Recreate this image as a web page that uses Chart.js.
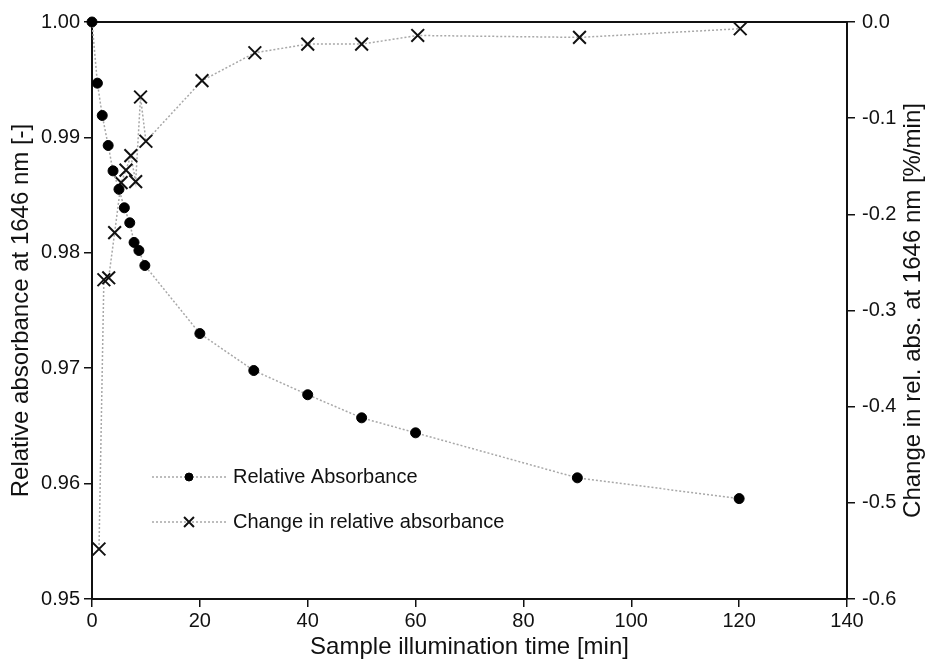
<!DOCTYPE html>
<html>
<head>
<meta charset="utf-8">
<script src="https://cdn.jsdelivr.net/npm/chart.js@4.4.1/dist/chart.umd.min.js"></script>
<style>
  html, body { margin: 0; padding: 0; background: #fff; }
  #wrap { width: 928px; height: 664px; position: relative; }
</style>
</head>
<body>
<div id="wrap"><canvas id="c"></canvas></div>
<script>
// Waarden
const absTime = [0, 1, 1.9, 3, 3.9, 5, 6, 7, 7.8, 8.7, 9.8, 20, 30, 40, 50, 60, 90, 120];
const relAbsorbance = [1.0000, 0.9947, 0.9919, 0.9893, 0.9871, 0.9855, 0.9839, 0.9826, 0.9809, 0.9802, 0.9789,
                       0.9730, 0.9698, 0.9677, 0.9657, 0.9644, 0.9605, 0.9587];
const changeTime = [1.3, 2.2, 3.1, 4.2, 5.4, 6.3, 7.2, 8.1, 9, 10, 20.4, 30.2, 40, 50, 60.4, 90.4, 120.2];
const changeRelAbs = [-0.548, -0.268, -0.266, -0.219, -0.167, -0.154, -0.139, -0.166, -0.078, -0.124,
                      -0.061, -0.032, -0.023, -0.023, -0.014, -0.016, -0.007];
const xTicks = [0, 20, 40, 60, 80, 100, 120, 140];
const yLeftTicks = [0.95, 0.96, 0.97, 0.98, 0.99, 1.00];
const yRightTicks = [-0.6, -0.5, -0.4, -0.3, -0.2, -0.1, 0.0];
const seriesLabels = ['Relative Absorbance', 'Change in relative absorbance'];
const rightTitle = 'Change in rel. abs. at 1646 nm [%/min]';

const FONT = '"Liberation Sans", Arial, sans-serif';
const INK = '#111';
const LINE_GREY = '#a8a8a8';

const toPoints = (xs, ys) => xs.map((x, i) => ({ x, y: ys[i] }));

// Legenda binnen het plotvlak (linksonder)
const innerLegend = {
  id: 'innerLegend',
  afterDraw(chart) {
    const { ctx, chartArea } = chart;
    const x0 = chartArea.left + 60;
    const rows = [chartArea.bottom - 122, chartArea.bottom - 77];
    const radii = [4, 7];
    chart.data.datasets.forEach((ds, i) => {
      const y = rows[i];
      ctx.save();
      ctx.strokeStyle = ds.borderColor;
      ctx.lineWidth = ds.borderWidth;
      ctx.setLineDash(ds.borderDash);
      ctx.beginPath();
      ctx.moveTo(x0, y);
      ctx.lineTo(x0 + 76, y);
      ctx.stroke();
      ctx.setLineDash([]);
      ctx.fillStyle = ds.pointBackgroundColor;
      ctx.strokeStyle = ds.pointBorderColor;
      ctx.lineWidth = ds.pointBorderWidth;
      Chart.helpers.drawPoint(ctx, {
        pointStyle: ds.pointStyle, radius: radii[i], borderWidth: ds.pointBorderWidth, rotation: 0
      }, x0 + 37, y);
      ctx.fillStyle = INK;
      ctx.font = '20px ' + FONT;
      ctx.textBaseline = 'middle';
      ctx.textAlign = 'left';
      ctx.fillText(ds.label, x0 + 81, y);
      ctx.restore();
    });
  }
};

// Rechter astitel leest van onder naar boven, zoals links
const rightAxisTitle = {
  id: 'rightAxisTitle',
  afterDraw(chart) {
    const { ctx, chartArea } = chart;
    ctx.save();
    ctx.translate(913, (chartArea.top + chartArea.bottom) / 2);
    ctx.rotate(-Math.PI / 2);
    ctx.fillStyle = INK;
    ctx.font = '24px ' + FONT;
    ctx.textAlign = 'center';
    ctx.textBaseline = 'middle';
    ctx.fillText(rightTitle, 0, 0);
    ctx.restore();
  }
};

const axisBorder = { display: true, color: INK, width: 2 };
const tickGrid = { display: true, drawOnChartArea: false, drawTicks: true, tickLength: 8, color: INK, lineWidth: 1.5 };

new Chart(document.getElementById('c'), {
  type: 'scatter',
  data: {
    datasets: [
      {
        label: seriesLabels[0],
        data: toPoints(absTime, relAbsorbance),
        yAxisID: 'y',
        showLine: true,
        borderColor: LINE_GREY,
        borderWidth: 1.5,
        borderDash: [2, 2],
        pointStyle: 'circle',
        pointRadius: 5,
        pointBackgroundColor: '#000',
        pointBorderColor: '#000',
        pointBorderWidth: 1,
        clip: false
      },
      {
        label: seriesLabels[1],
        data: toPoints(changeTime, changeRelAbs),
        yAxisID: 'y2',
        showLine: true,
        borderColor: LINE_GREY,
        borderWidth: 1.5,
        borderDash: [2, 2],
        pointStyle: 'crossRot',
        pointRadius: 9,
        pointBackgroundColor: '#111',
        pointBorderColor: '#111',
        pointBorderWidth: 2,
        clip: false
      }
    ]
  },
  options: {
    responsive: true,
    maintainAspectRatio: false,
    animation: false,
    layout: { padding: { top: 22, left: 0, right: 0, bottom: 0 } },
    plugins: { legend: { display: false }, tooltip: { enabled: false } },
    scales: {
      x: {
        type: 'linear', position: 'bottom', min: 0, max: 140,
        afterBuildTicks: (s) => { s.ticks = xTicks.map(v => ({ value: v })); },
        afterFit: (s) => { s.height = 65; },
        border: axisBorder,
        grid: tickGrid,
        ticks: { color: INK, font: { family: FONT, size: 20 }, padding: 2, maxRotation: 0,
                 callback: (v) => String(v) },
        title: { display: true, text: 'Sample illumination time [min]', color: INK,
                 font: { family: FONT, size: 24 }, padding: { top: 0, bottom: 2 } }
      },
      xTop: {
        type: 'linear', position: 'top', min: 0, max: 140,
        afterFit: (s) => { s.height = 0; },
        border: axisBorder,
        grid: { display: false },
        ticks: { display: false }
      },
      y: {
        type: 'linear', position: 'left', min: 0.95, max: 1.0,
        afterBuildTicks: (s) => { s.ticks = yLeftTicks.map(v => ({ value: v })); },
        afterFit: (s) => { s.width = 92; },
        border: axisBorder,
        grid: tickGrid,
        ticks: { color: INK, font: { family: FONT, size: 20 }, padding: 4,
                 callback: (v) => v.toFixed(2) },
        title: { display: true, text: 'Relative absorbance at 1646 nm [-]', color: INK,
                 font: { family: FONT, size: 24 }, padding: { top: 7, bottom: 7 } }
      },
      y2: {
        type: 'linear', position: 'right', min: -0.6, max: 0,
        afterBuildTicks: (s) => { s.ticks = yRightTicks.map(v => ({ value: v })); },
        afterFit: (s) => { s.width = 81; },
        border: axisBorder,
        grid: tickGrid,
        ticks: { color: INK, font: { family: FONT, size: 20 }, padding: 7,
                 callback: (v) => v.toFixed(1) },
        title: { display: false, text: rightTitle }
      }
    }
  },
  plugins: [innerLegend, rightAxisTitle]
});
</script>
</body>
</html>
